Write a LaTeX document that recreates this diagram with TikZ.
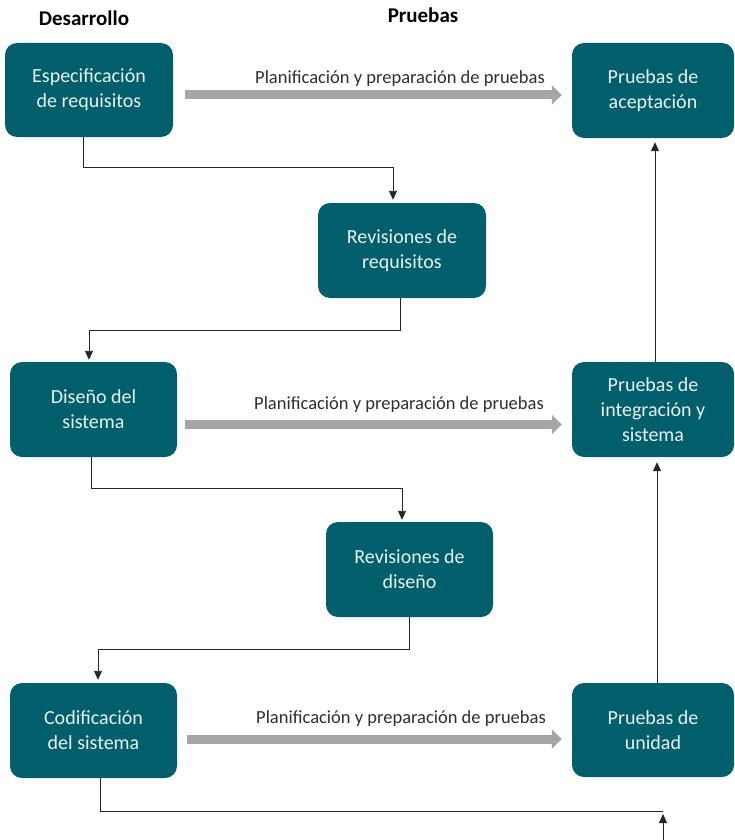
\documentclass[tikz,border=0pt]{standalone}
\usepackage{fontspec}
\setmainfont{Carlito}
\usetikzlibrary{arrows.meta}
\definecolor{tealbox}{HTML}{005F6A}
\definecolor{boxtext}{HTML}{E8F1F1}
\definecolor{grayarrow}{HTML}{A6A6A6}
\definecolor{labeltext}{HTML}{2E2E2E}
\tikzset{
  box/.style={rectangle, rounded corners=12pt, fill=tealbox, text=boxtext,
    align=center, font=\fontsize{20}{25}\selectfont, inner sep=0pt},
  head/.style={font=\fontsize{21}{25}\selectfont\bfseries, text=black},
  plabel/.style={font=\fontsize{18.5}{22}\selectfont, text=labeltext, inner sep=0pt},
  conn/.style={draw=black!85, line width=0.9pt, -{Triangle[width=8pt,length=9pt]}},
  gray arrow/.style={draw=grayarrow, line width=9pt, -{Triangle[width=19pt,length=10pt]}}
}
\begin{document}
\begin{tikzpicture}[x=1pt,y=-1pt]
\useasboundingbox (0,0) rectangle (735,840);
% headings
\node[head] (hdes) at (84,18) {Desarrollo};
\node[head] (hpru) at (423,15) {Pruebas};
% boxes
\node[box, minimum width=168pt, minimum height=94pt] (esp) at (89,90) {Especificación\\de requisitos};
\node[box, minimum width=162pt, minimum height=95pt] (acep) at (653,90.5) {Pruebas de\\aceptación};
\node[box, minimum width=168pt, minimum height=95pt] (revreq) at (402,250.5) {Revisiones de\\requisitos};
\node[box, minimum width=167pt, minimum height=95pt] (dis) at (93.5,409.5) {Diseño del\\sistema};
\node[box, minimum width=162pt, minimum height=95pt] (integ) at (653,409.5) {Pruebas de\\integración y\\sistema};
\node[box, minimum width=167pt, minimum height=95pt] (revdis) at (409.5,569.5) {Revisiones de\\diseño};
\node[box, minimum width=167pt, minimum height=95pt] (cod) at (93.5,730.5) {Codificación\\del sistema};
\node[box, minimum width=162pt, minimum height=94pt] (unid) at (653,730) {Pruebas de\\unidad};
% gray planning arrows
\draw[gray arrow, shorten <=12pt, shorten >=10pt] ([yshift=-5pt]esp.east) -- ([yshift=-4.5pt]acep.west);
\node[plabel] (l1) at (400,79) {Planificación y preparación de pruebas};
\draw[gray arrow, shorten <=8pt, shorten >=10pt] ([yshift=-15pt]dis.east) -- ([yshift=-15pt]integ.west);
\node[plabel] (l2) at (399,405) {Planificación y preparación de pruebas};
\draw[gray arrow, shorten <=10pt, shorten >=10pt] ([yshift=-8.5pt]cod.east) -- ([yshift=-9pt]unid.west);
\node[plabel] (l3) at (401,719) {Planificación y preparación de pruebas};
% development flow connectors
\draw[conn, shorten >=3pt] ([xshift=-6pt]esp.south) -- ++(0,30) -| ([xshift=-9pt]revreq.north);
\draw[conn, shorten >=2pt] ([xshift=-2pt]revreq.south) -- ++(0,32) -| ([xshift=-4.5pt]dis.north);
\draw[conn, shorten >=2pt] ([xshift=-2.5pt]dis.south) -- ++(0,31) -| ([xshift=-7.5pt]revdis.north);
\draw[conn, shorten >=3pt] ([xshift=0pt]revdis.south) -- ++(0,32) -| ([xshift=4.5pt]cod.north);
% bottom line
\coordinate (bend) at (663,811);
\coordinate (bottom) at (663,840);
\draw[draw=black!85, line width=0.9pt] ([xshift=6.5pt]cod.south) |- (bend);
\draw[conn, shorten >=3pt] (bottom) -- (bend);
% testing flow arrows
\draw[conn, shorten >=5pt] ([xshift=4pt]unid.north) -- ([xshift=4pt]integ.south);
\draw[conn, shorten >=4pt] ([xshift=2pt]integ.north) -- ([xshift=2pt]acep.south);
\end{tikzpicture}
\end{document}
